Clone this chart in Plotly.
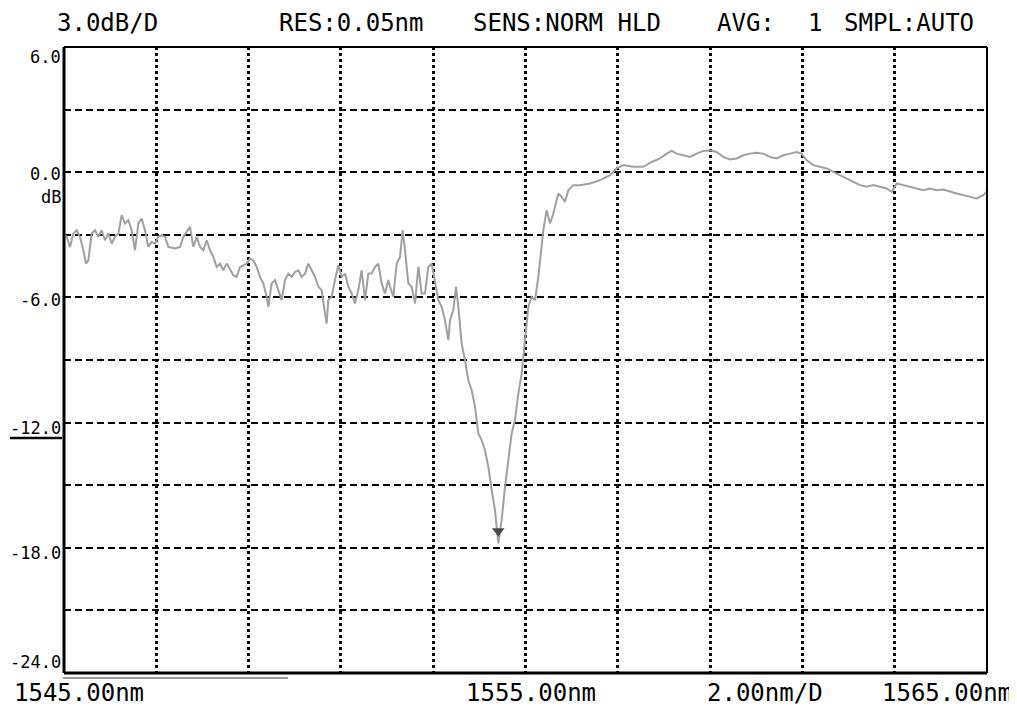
import plotly.graph_objects as go

# ---- data (wavelength in nm, power in dB) ----
wavelength_nm = [
    1545.000, 1545.058, 1545.130, 1545.202, 1545.275, 1545.347, 1545.419, 1545.477, 1545.527, 1545.600,
    1545.672, 1545.744, 1545.816, 1545.888, 1545.961, 1546.033, 1546.105, 1546.177, 1546.250, 1546.322,
    1546.394, 1546.466, 1546.538, 1546.611, 1546.683, 1546.755, 1546.827, 1546.900, 1546.972, 1547.044,
    1547.116, 1547.188, 1547.261, 1547.405, 1547.514, 1547.586, 1547.658, 1547.730, 1547.802, 1547.875,
    1547.947, 1548.019, 1548.091, 1548.164, 1548.236, 1548.308, 1548.380, 1548.452, 1548.525, 1548.597,
    1548.669, 1548.741, 1548.814, 1548.886, 1548.958, 1549.030, 1549.102, 1549.175, 1549.247, 1549.319,
    1549.391, 1549.428, 1549.500, 1549.572, 1549.644, 1549.716, 1549.789, 1549.861, 1549.933, 1550.005,
    1550.078, 1550.150, 1550.222, 1550.294, 1550.366, 1550.439, 1550.511, 1550.583, 1550.655, 1550.691,
    1550.727, 1550.800, 1550.872, 1550.944, 1551.017, 1551.089, 1551.161, 1551.233, 1551.305, 1551.378,
    1551.450, 1551.522, 1551.594, 1551.666, 1551.739, 1551.811, 1551.883, 1551.955, 1552.028,
    1552.064, 1552.136, 1552.208, 1552.281, 1552.338, 1552.389, 1552.461, 1552.533, 1552.606, 1552.678,
    1552.750, 1552.822, 1552.894, 1552.967, 1553.039, 1553.111, 1553.183, 1553.256, 1553.328, 1553.364,
    1553.436, 1553.494, 1553.545, 1553.617, 1553.689, 1553.761, 1553.834, 1553.906, 1553.978, 1554.050,
    1554.122, 1554.195, 1554.267, 1554.339, 1554.411, 1554.483, 1554.556, 1554.628, 1554.700, 1554.772,
    1554.845, 1554.917, 1554.989, 1555.061, 1555.133, 1555.206, 1555.278, 1555.314, 1555.386, 1555.458,
    1555.531, 1555.603, 1555.675,
    1555.711, 1555.784, 1555.856, 1555.928, 1556.036,
    1556.181, 1556.398, 1556.614, 1556.831, 1556.975, 1557.120, 1557.336, 1557.553, 1557.734, 1557.914,
    1558.059, 1558.167, 1558.275, 1558.420, 1558.564, 1558.709, 1558.853, 1558.998, 1559.142, 1559.287,
    1559.431, 1559.576, 1559.720, 1559.865, 1560.009, 1560.153, 1560.298, 1560.442, 1560.587, 1560.731,
    1560.876, 1560.984, 1561.092, 1561.237, 1561.381, 1561.526, 1561.670, 1561.815, 1561.959, 1562.104,
    1562.248, 1562.392, 1562.537, 1562.681, 1562.826, 1562.934, 1563.042, 1563.187, 1563.331, 1563.476,
    1563.620, 1563.765, 1563.909, 1564.054, 1564.198, 1564.343, 1564.487, 1564.632, 1564.776, 1564.920,
    1564.993,
]

power_db = [
    -2.94, -3.10, -3.58, -2.94, -2.78, -3.10, -3.74, -4.38, -4.22, -2.94,
    -2.78, -3.10, -2.78, -3.26, -2.94, -3.42, -3.10, -2.94, -2.06, -2.46,
    -2.30, -2.78, -3.74, -2.46, -2.22, -2.78, -3.58, -3.34, -3.42, -3.10,
    -3.02, -3.10, -3.58, -3.66, -3.58, -3.10, -2.86, -2.62, -3.58, -3.10,
    -3.58, -3.74, -3.26, -3.74, -4.06, -4.54, -4.38, -4.70, -4.38, -4.70,
    -4.94, -5.02, -4.54, -4.46, -4.38, -4.14, -4.22, -4.54, -5.02, -5.33,
    -5.97, -6.45, -5.33, -5.17, -5.65, -6.13, -5.17, -4.86, -5.02, -4.78,
    -4.70, -5.02, -4.86, -4.38, -4.70, -5.02, -5.49, -5.65, -6.77, -7.25,
    -6.13, -5.97, -5.17, -4.46, -5.02, -4.86, -5.49, -5.81, -6.29, -5.65,
    -4.70, -6.13, -4.86, -4.86, -4.54, -4.38, -5.33, -5.81, -5.17,
    -5.49, -5.97, -4.38, -4.06, -2.78, -3.74, -5.33, -5.49, -6.29, -4.54,
    -5.81, -5.81, -4.54, -4.38, -5.33, -6.13, -6.45, -7.09, -8.05, -7.09,
    -6.61, -5.49, -6.45, -8.21, -9.01, -9.97, -10.45, -11.24, -12.52, -12.84,
    -13.32, -14.12, -15.24, -16.20, -17.79, -16.67, -15.08, -13.80, -12.52, -11.88,
    -10.61, -9.65, -8.05, -6.45, -5.97, -6.13, -5.02, -4.22, -2.78, -1.82,
    -2.46, -1.98, -1.34,
    -1.02, -1.18, -1.42, -0.86, -0.62,
    -0.62, -0.54, -0.38, -0.14, 0.18, 0.34, 0.26, 0.26, 0.49, 0.66,
    0.89, 1.02, 0.89, 0.81, 0.73, 0.89, 1.02, 1.05, 0.97, 0.73,
    0.61, 0.66, 0.81, 0.89, 0.93, 0.89, 0.73, 0.66, 0.81, 0.89,
    0.97, 0.89, 0.57, 0.34, 0.26, 0.18, 0.02, -0.14, -0.30, -0.46,
    -0.62, -0.70, -0.62, -0.70, -0.78, -0.94, -0.54, -0.62, -0.70, -0.78,
    -0.86, -0.78, -0.86, -0.83, -0.94, -1.02, -1.10, -1.18, -1.26, -1.10,
    -0.94,
]

marker_wavelength = [1554.41]
marker_power = [-17.2]

y_tick_values = [6, 0, -6, -12, -18, -24]
y_tick_labels = ["6.0", "0.0", "-6.0", "-12.0", "-18.0", "-24.0"]

header_texts = ["3.0dB/D", "RES:0.05nm", "SENS:NORM HLD", "AVG:", "1", "SMPL:AUTO"]
footer_texts = ["1545.00nm", "1555.00nm", "2.00nm/D", "1565.00nm"]

# ---- figure geometry (page body has an 8px default margin) ----
BODY = 8
W, H = 1017 - BODY, 711 - BODY
L, T = 64 - BODY, 47 - BODY
PW, PH = 923, 626
R, B = W - L - PW, H - T - PH

def px_to_paper_x(px):
    # px measured in screenshot pixels
    return (px - BODY - L) / PW

def px_to_paper_y(py):
    return (H - B - (py - BODY)) / PH

fig = go.Figure()
fig.add_trace(go.Scatter(
    x=wavelength_nm, y=power_db, mode="lines",
    line=dict(color="#a0a0a0", width=2), hoverinfo="skip", showlegend=False,
))
fig.add_trace(go.Scatter(
    x=marker_wavelength, y=marker_power, mode="markers",
    marker=dict(symbol="triangle-down", size=11, color="#4a4a4a"),
    hoverinfo="skip", showlegend=False,
))

mono = "DejaVu Sans Mono"

fig.update_layout(
    width=W, height=H,
    margin=dict(l=L, r=R, t=T, b=B, pad=0),
    paper_bgcolor="white", plot_bgcolor="white",
    xaxis=dict(range=[1545, 1565], dtick=2, tick0=1545, showticklabels=False, ticks="",
               showgrid=True, gridcolor="black", gridwidth=2.5, griddash="dot",
               zeroline=False, showline=False, fixedrange=True),
    yaxis=dict(range=[-24, 6], dtick=3, tick0=0, showticklabels=False, ticks="",
               showgrid=True, gridcolor="black", gridwidth=2, griddash="7px,4px",
               zeroline=False, showline=False, fixedrange=True),
    showlegend=False,
)

shapes = [
    dict(type="line", xref="paper", yref="paper", x0=0, x1=1, y0=1, y1=1, line=dict(color="black", width=2)),
    dict(type="line", xref="paper", yref="paper", x0=1, x1=1, y0=0, y1=1, line=dict(color="black", width=2)),
    dict(type="line", xref="paper", yref="paper", x0=0, x1=0, y0=0, y1=1, line=dict(color="black", width=3)),
    dict(type="line", xref="paper", yref="paper", x0=0, x1=1, y0=0, y1=0, line=dict(color="black", width=3)),
    dict(type="line", xref="paper", yref="paper", x0=px_to_paper_x(10), x1=px_to_paper_x(62),
         y0=px_to_paper_y(438), y1=px_to_paper_y(438), line=dict(color="black", width=2.5)),
    dict(type="line", xref="paper", yref="paper", x0=px_to_paper_x(63), x1=px_to_paper_x(288),
         y0=px_to_paper_y(678), y1=px_to_paper_y(678), line=dict(color="#333333", width=1.2)),
]
fig.update_layout(shapes=shapes)

annotations = []
label_centers = [57, 174, 300, 428, 553, 662]
for txt, cy in zip(y_tick_labels, label_centers):
    annotations.append(dict(text=txt, xref="paper", yref="paper", x=px_to_paper_x(63), y=px_to_paper_y(cy),
                            xanchor="right", yanchor="middle", showarrow=False,
                            font=dict(family=mono, size=17, color="black")))
annotations.append(dict(text="dB", xref="paper", yref="paper", x=px_to_paper_x(63), y=px_to_paper_y(197),
                        xanchor="right", yanchor="middle", showarrow=False,
                        font=dict(family=mono, size=17, color="black")))

header_left = [55, 277, 471, 715, 806, 842]
for txt, lx in zip(header_texts, header_left):
    annotations.append(dict(text=txt, xref="paper", yref="paper", x=px_to_paper_x(lx), y=px_to_paper_y(23),
                            xanchor="left", yanchor="middle", showarrow=False,
                            font=dict(family=mono, size=24, color="black")))

footer_left = [12, 464, 705, 880]
for txt, lx in zip(footer_texts, footer_left):
    annotations.append(dict(text=txt, xref="paper", yref="paper", x=px_to_paper_x(lx), y=px_to_paper_y(693),
                            xanchor="left", yanchor="middle", showarrow=False,
                            font=dict(family=mono, size=24, color="black")))

fig.update_layout(annotations=annotations)

fig.write_html("out.html")
